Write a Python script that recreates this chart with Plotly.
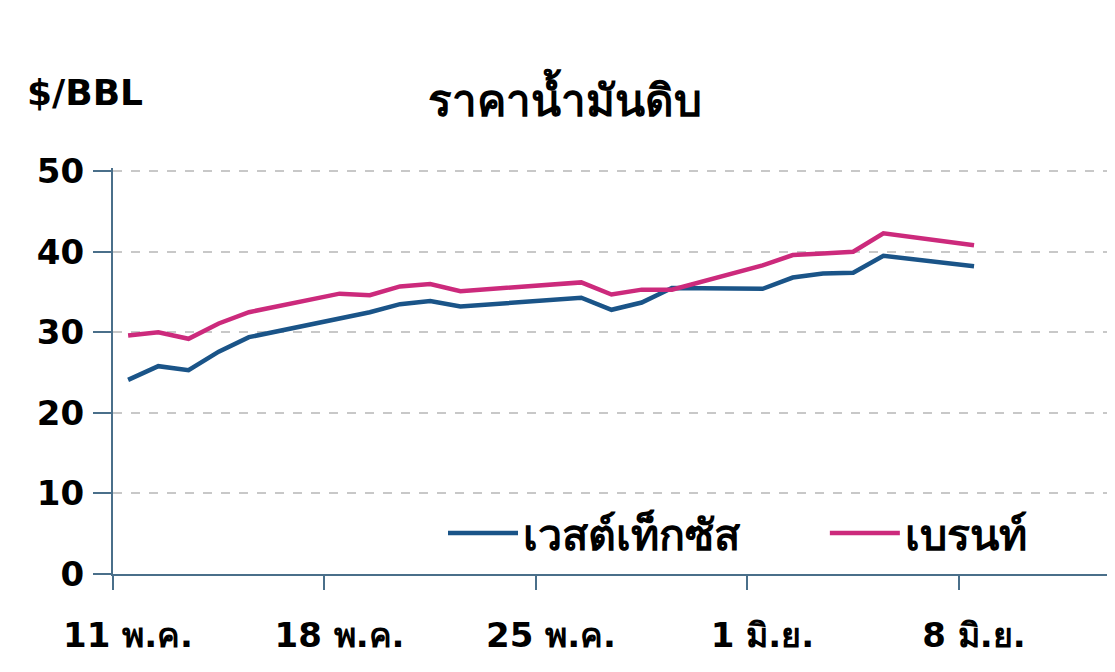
import plotly.graph_objects as go

dates = ["2020-05-11", "2020-05-12", "2020-05-13", "2020-05-14", "2020-05-15",
         "2020-05-18", "2020-05-19", "2020-05-20", "2020-05-21", "2020-05-22",
         "2020-05-26", "2020-05-27", "2020-05-28", "2020-05-29",
         "2020-06-01", "2020-06-02", "2020-06-03", "2020-06-04", "2020-06-05",
         "2020-06-08"]
wti = [24.1, 25.8, 25.3, 27.6, 29.4,
       31.8, 32.5, 33.5, 33.9, 33.2,
       34.3, 32.8, 33.7, 35.5,
       35.4, 36.8, 37.3, 37.4, 39.5,
       38.2]
brent = [29.6, 30.0, 29.2, 31.1, 32.5,
         34.8, 34.6, 35.7, 36.0, 35.1,
         36.2, 34.7, 35.3, 35.3,
         38.3, 39.6, 39.8, 40.0, 42.3,
         40.8]
tick_dates = ["2020-05-11", "2020-05-18", "2020-05-25", "2020-06-01", "2020-06-08"]
tick_labels = ["11 พ.ค.", "18 พ.ค.", "25 พ.ค.", "1 มิ.ย.", "8 มิ.ย."]
y_ticks = [0, 10, 20, 30, 40, 50]

font_family = "DejaVu Sans, Arial, sans-serif"
axis_color = "#4a6f8a"

fig = go.Figure()
fig.add_trace(go.Scatter(x=dates, y=wti, name="<b>เวสต์เท็กซัส</b>", mode="lines",
                         line=dict(color="#1a5488", width=4.5), legend="legend",
                         xperiod=86400000, xperiodalignment="middle"))
fig.add_trace(go.Scatter(x=dates, y=brent, name="<b>เบรนท์</b>", mode="lines",
                         line=dict(color="#cc2a7c", width=4.5), legend="legend2",
                         xperiod=86400000, xperiodalignment="middle"))

legend_style = dict(orientation="h", xanchor="left", yanchor="middle",
                    font=dict(size=43, color="black"), itemwidth=70,
                    bgcolor="rgba(0,0,0,0)")

plot_h = 672 - 160 - 106
def py(screen_y):
    # convert a screen pixel row to paper fraction
    return (566 - (screen_y - 8)) / plot_h

fig.update_layout(
    width=1115, height=672,
    margin=dict(l=105, r=13, t=160, b=106),
    paper_bgcolor="white", plot_bgcolor="white",
    font=dict(family=font_family, color="black"),
    showlegend=True,
    legend=dict(x=0.331, y=py(533), **legend_style),
    legend2=dict(x=0.714, y=py(533), **legend_style),
    annotations=[
        dict(text="<b>ราคาน้ำมันดิบ</b>", x=0.4534, y=py(97), xref="paper", yref="paper",
             xanchor="center", yanchor="middle", showarrow=False, font=dict(size=44)),
        dict(text="<b>$/BBL</b>", x=-0.0883, y=py(92), xref="paper", yref="paper",
             xanchor="left", yanchor="middle", showarrow=False, font=dict(size=36)),
    ],
)

fig.update_xaxes(
    type="date", range=["2020-05-11", "2020-06-13"],
    tickmode="array", tickvals=tick_dates, ticktext=[f"<b>{t}</b>" for t in tick_labels],
    ticks="outside", ticklen=14, tickwidth=2, tickcolor=axis_color,
    ticklabelshift=15, ticklabelstandoff=16,
    tickfont=dict(size=34, color="black"),
    showline=True, linecolor=axis_color, linewidth=2,
    showgrid=False, zeroline=False,
)
fig.update_yaxes(
    range=[0, 50.4], tickvals=y_ticks, ticktext=[f"<b>{v}</b>" for v in y_ticks],
    ticks="outside", ticklen=18, tickwidth=2, tickcolor=axis_color,
    tickfont=dict(size=34, color="black"), ticklabelstandoff=2,
    showline=True, linecolor=axis_color, linewidth=2,
    showgrid=True, gridcolor="#c8c8c8", griddash="dash", gridwidth=1.5,
    zeroline=False,
)

fig.write_html("out.html")
